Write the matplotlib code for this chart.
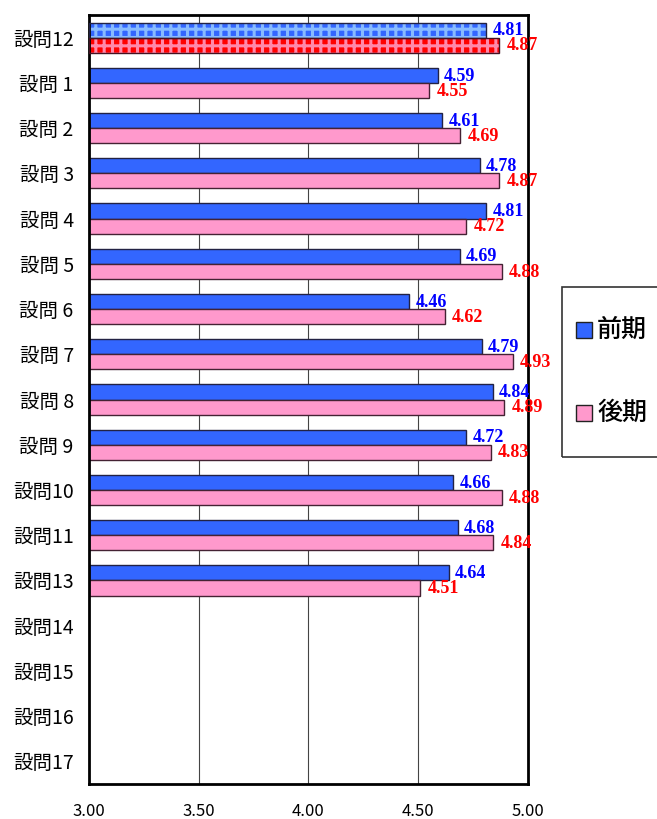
import numpy as np
import matplotlib
matplotlib.use('Agg')
import matplotlib.pyplot as plt
from matplotlib.patches import Rectangle

plt.rcParams['font.family'] = ['Noto Sans CJK JP', 'DejaVu Sans']
plt.rcParams['hatch.linewidth'] = 2.2

questions = ['設問12', '設問 1', '設問 2', '設問 3', '設問 4', '設問 5', '設問 6',
             '設問 7', '設問 8', '設問 9', '設問10', '設問11', '設問13',
             '設問14', '設問15', '設問16', '設問17']
zenki = [4.81, 4.59, 4.61, 4.78, 4.81, 4.69, 4.46, 4.79, 4.84, 4.72, 4.66, 4.68, 4.64]
kouki = [4.87, 4.55, 4.69, 4.87, 4.72, 4.88, 4.62, 4.93, 4.89, 4.83, 4.88, 4.84, 4.51]
xticks = [3.0, 3.5, 4.0, 4.5, 5.0]
xlabels = ['3.00', '3.50', '4.00', '4.50', '5.00']

blue = '#3366FF'
pink = '#FF99CC'
h = 0.333
base = 3.0

fig = plt.figure(figsize=(6.57, 8.19), dpi=100)
ax = fig.add_axes([0.1355, 0.0427, 0.668, 0.939])
ax.set_xlim(3.0, 5.0)
ax.set_ylim(len(questions) - 0.5, -0.5)

for x in xticks[1:-1]:
    ax.axvline(x, color='#444444', lw=0.8, zorder=0)

for i, (a, b) in enumerate(zip(zenki, kouki)):
    if i == 0:
        # overall row drawn checkered
        ax.barh(i - h / 2, a - base, left=base, height=h, color=blue,
                edgecolor='#88BBFF', hatch='++', lw=0, zorder=2)
        ax.barh(i + h / 2, b - base, left=base, height=h, color='#FF0000',
                edgecolor='#FF88AA', hatch='++', lw=0, zorder=2)
        ax.barh(i - h / 2, a - base, left=base, height=h, fill=False,
                edgecolor='#222244', lw=1.0, zorder=3)
        ax.barh(i + h / 2, b - base, left=base, height=h, fill=False,
                edgecolor='#441122', lw=1.0, zorder=3)
    else:
        ax.barh(i - h / 2, a - base, left=base, height=h, color=blue,
                edgecolor='#222244', lw=1.0, zorder=2)
        ax.barh(i + h / 2, b - base, left=base, height=h, color=pink,
                edgecolor='#442233', lw=1.0, zorder=2)
    ax.annotate(f'{a:.2f}', (a, i - h / 2), xytext=(4.5, -0.5), textcoords='offset points',
                ha='left', va='center', color='#0000FF', fontsize=13,
                fontweight='bold', family=['Liberation Serif'])
    ax.annotate(f'{b:.2f}', (b, i + h / 2), xytext=(5.5, -0.5), textcoords='offset points',
                ha='left', va='center', color='#FF0000', fontsize=13,
                fontweight='bold', family=['Liberation Serif'])

ax.set_yticks(range(len(questions)))
ax.set_yticklabels(questions, fontsize=14)
ax.set_xticks(xticks)
ax.set_xticklabels(xlabels, fontsize=12)
ax.tick_params(axis='y', length=0, pad=11)
ax.tick_params(axis='x', length=0, pad=14)
for s in ax.spines.values():
    s.set_linewidth(2)

# legend box on the right, running off the edge
fig.patches.append(Rectangle((562 / 657, 1 - 457 / 819), 0.3, 170 / 819,
                             transform=fig.transFigure, fill=False,
                             edgecolor='#333333', lw=1.2, clip_on=False))
for yy, col, txt in [(330, blue, '前期'), (413, pink, '後期')]:
    fig.patches.append(Rectangle((576 / 657, 1 - (yy + 8) / 819), 16 / 657, 16 / 819,
                                 transform=fig.transFigure, facecolor=col,
                                 edgecolor='#222222', lw=1))
    fig.text(597 / 657, 1 - yy / 819, txt, fontsize=18, fontweight='medium',
             va='center', ha='left')

fig.savefig('out.png', dpi=100)
